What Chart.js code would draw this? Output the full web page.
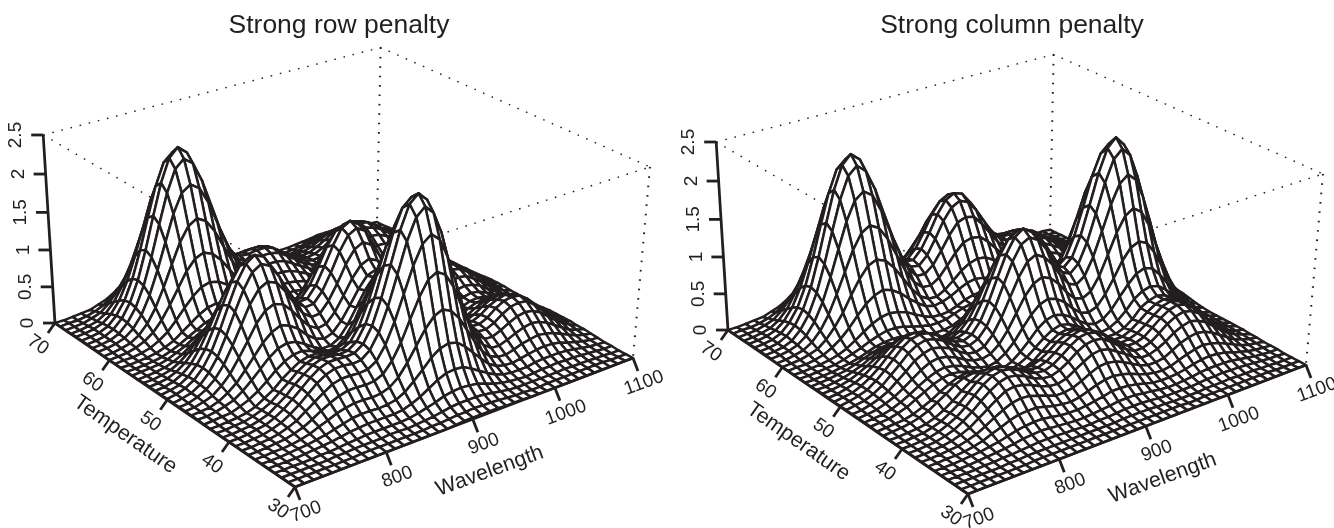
<!DOCTYPE html>
<html>
<head>
<meta charset="utf-8">
<title>Row and column penalty surfaces</title>
<script src="https://cdn.jsdelivr.net/npm/chart.js"></script>
<style>
  html, body { margin: 0; padding: 0; background: #fff; overflow: hidden; }
  #wrap { display: flex; width: 1334px; height: 528px; }
  canvas { display: block; }
</style>
</head>
<body>
<div id="wrap">
  <canvas id="rowChart" width="667" height="528"></canvas>
  <canvas id="columnChart" width="667" height="528"></canvas>
</div>
<script>
const wavelengths = [700,710,720,730,740,750,760,770,780,790, 800,810,820,830,840,850,860,870,880,890, 900,910,920,930,940,950,960,970,980,990, 1000,1010,1020,1030,1040,1050,1060,1070,1080,1090,1100];
const temperatures = [30,31,32,33,34,35,36,37,38,39, 40,41,42,43,44,45,46,47,48,49, 50,51,52,53,54,55,56,57,58,59, 60,61,62,63,64,65,66,67,68,69,70];

const waveTicks = [700,800,900,1000,1100];
const tempTicks = [70,60,50,40,30];
const zTicks = [0,0.5,1,1.5,2,2.5];

// heights, in hundredths. one row per temperature, one column per wavelength
const rowPenaltyZ = [
[0,0,0,0,0,0,0,0,0,0, 0,0,0,0,0,0,0,0,1,2, 2,2,2,2,1,1,1,0,0,0, 0,0,0,0,0,0,0,0,0,0,0],
[0,0,0,0,0,0,0,0,1,1, 1,1,1,1,1,1,2,2,3,4, 4,5,4,4,3,2,1,1,0,0, 1,1,1,1,1,1,1,1,0,0,0],
[0,0,0,0,0,0,1,1,2,2, 2,2,3,3,2,3,4,5,7,9, 10,10,10,9,7,5,3,2,2,2, 2,2,2,3,2,2,2,1,1,0,0],
[0,0,0,0,0,1,1,2,3,4, 5,5,5,5,5,6,8,11,14,18, 20,21,20,18,14,10,7,5,4,3, 4,5,5,6,5,5,4,3,2,1,1],
[0,0,0,0,1,2,3,4,6,8, 9,10,10,10,10,11,15,20,27,34, 39,40,39,33,26,19,13,9,7,7, 7,9,10,10,10,9,7,5,3,2,1],
[0,0,0,1,2,3,5,7,10,13, 16,17,17,16,17,19,25,35,46,58, 66,69,66,57,45,33,22,15,12,11, 13,15,17,18,17,15,11,8,5,3,2],
[0,0,1,1,2,4,7,12,16,21, 24,26,26,25,26,30,39,54,72,90, 103,108,102,89,70,51,34,23,18,17, 20,24,26,28,26,23,18,13,8,5,3],
[0,0,1,2,3,6,10,16,23,29, 34,37,37,36,37,42,55,75,101,126, 145,151,144,125,98,71,48,33,25,24, 28,33,37,39,37,32,25,18,11,7,4],
[0,0,1,2,4,8,13,21,29,37, 44,47,47,46,47,54,71,97,129,161, 185,194,184,159,126,91,62,42,32,31, 36,42,47,49,47,41,32,23,15,9,4],
[0,0,1,2,5,9,16,24,34,44, 51,55,55,53,54,63,82,112,149,187, 214,224,213,185,145,105,71,49,37,36, 41,49,55,57,55,47,37,26,17,10,5],
[0,0,1,3,5,10,17,26,36,46, 54,58,58,57,58,66,86,118,157,197, 226,236,225,194,153,111,75,51,39,38, 43,52,58,60,58,50,39,28,18,10,5],
[0,0,1,2,5,9,17,25,36,45, 53,57,57,55,56,64,83,113,151,189, 217,227,216,187,147,107,72,49,38,37, 42,50,55,58,55,48,37,27,17,10,5],
[0,0,1,2,5,9,15,24,33,43, 50,54,53,52,52,58,74,101,134,167, 192,200,191,165,130,94,64,43,34,33, 37,44,50,52,49,43,33,24,15,9,5],
[0,0,1,2,4,8,15,22,32,40, 47,50,50,48,47,51,63,84,111,138, 158,165,158,136,107,78,53,36,28,27, 31,37,42,44,42,36,28,20,13,8,4],
[0,1,2,3,7,12,19,28,38,46, 51,52,48,44,40,42,51,68,90,112, 129,134,128,111,87,63,43,30,23,23, 26,32,36,37,35,30,24,17,11,6,3],
[1,1,3,6,10,18,28,39,50,58, 61,59,52,44,38,38,44,58,77,96, 110,115,110,95,75,54,37,26,21,21, 24,29,33,34,32,28,22,16,10,6,3],
[1,2,3,7,14,23,36,50,64,74, 79,75,67,55,46,42,46,58,75,93, 107,111,106,92,73,53,36,25,21,21, 25,30,34,36,34,29,23,16,11,6,3],
[1,2,5,9,18,30,47,65,84,97, 102,98,86,71,58,51,53,65,83,102, 116,121,115,100,79,58,40,28,23,24, 29,35,39,41,39,34,26,19,12,7,4],
[1,2,6,12,22,37,58,81,104,120, 126,121,106,87,70,61,62,75,94,116, 132,138,131,114,90,65,45,32,27,28, 33,41,46,48,46,39,31,22,14,8,4],
[1,3,6,13,25,42,66,93,118,137, 144,138,121,99,80,69,70,83,104,128, 146,152,145,125,99,72,50,35,30,31, 37,45,51,54,51,44,35,25,16,9,5],
[1,3,7,14,26,44,69,97,124,143, 151,145,127,104,83,71,72,86,108,132, 151,157,149,129,102,74,51,37,31,32, 39,47,53,56,53,46,36,25,16,10,5],
[1,3,6,13,25,42,66,92,118,136, 143,137,121,99,79,68,68,81,102,125, 142,148,141,122,96,70,49,35,29,31, 37,44,50,53,50,43,34,24,16,9,5],
[1,2,5,11,21,37,57,80,102,118, 124,119,104,85,68,59,59,70,88,108, 123,128,122,105,83,61,42,30,25,26, 32,38,43,45,43,37,29,21,13,8,4],
[1,2,4,9,17,29,45,63,80,93, 97,93,82,67,54,46,46,55,69,84, 96,100,95,82,65,47,33,23,20,21, 25,30,34,36,34,29,23,16,11,6,3],
[1,1,3,6,12,21,32,45,58,67, 71,68,59,48,39,33,33,39,49,60, 69,71,68,59,46,34,23,17,14,15, 18,22,25,26,24,21,17,12,8,4,2],
[0,1,2,4,8,14,22,31,40,46, 49,47,41,33,27,22,22,26,32,39, 45,47,45,38,30,22,15,11,9,10, 12,15,16,17,16,14,11,8,5,3,2],
[0,1,2,3,6,11,16,23,29,34, 36,34,30,24,19,15,15,17,20,25, 28,29,28,24,19,14,10,7,6,7, 8,10,11,12,11,10,8,5,4,2,1],
[0,0,1,2,4,8,13,19,25,31, 34,34,31,26,20,16,13,13,14,17, 19,19,18,16,12,9,6,5,4,5, 7,8,9,10,9,8,6,4,3,2,1],
[0,0,1,2,4,8,13,21,29,37, 43,45,43,38,31,24,18,15,15,15, 16,16,16,13,11,8,6,5,5,6, 7,9,10,11,10,9,7,5,3,2,1],
[0,1,1,3,6,12,20,32,45,57, 66,69,66,58,46,35,26,21,19,19, 20,20,18,16,12,9,7,6,6,8, 10,13,15,16,15,13,10,7,5,3,1],
[0,1,2,5,10,18,31,48,67,86, 99,104,99,87,70,52,38,30,26,26, 27,27,25,22,17,13,10,9,9,12, 16,19,22,23,22,19,15,11,7,4,2],
[0,1,3,6,13,25,43,67,94,120, 138,145,138,121,97,73,54,41,36,36, 37,37,35,30,24,18,14,12,13,16, 22,27,31,32,31,27,21,15,10,6,3],
[1,2,4,8,17,32,55,85,119,153, 177,185,177,155,124,93,68,53,46,46, 47,47,44,37,30,23,17,15,16,21, 27,34,39,41,39,34,27,19,12,7,4],
[1,2,4,9,20,37,63,98,138,176, 204,214,205,179,143,107,79,61,53,53, 54,54,51,43,35,26,20,17,19,24, 32,39,45,48,45,39,31,22,14,8,4],
[1,2,4,10,21,39,66,103,145,185, 214,225,215,188,150,112,83,64,56,55, 57,57,53,45,36,27,21,18,20,25, 33,41,48,50,48,41,32,23,15,9,5],
[1,2,4,9,20,37,63,98,138,176, 204,214,205,179,143,107,79,61,53,53, 54,54,51,43,35,26,20,17,19,24, 32,39,45,48,45,39,31,22,14,8,4],
[1,2,4,8,17,32,55,85,119,153, 177,185,177,155,124,93,68,53,46,46, 47,47,44,37,30,23,17,15,16,21, 27,34,39,41,39,34,27,19,12,7,4],
[0,1,3,6,13,25,43,67,94,120, 138,145,138,121,97,73,54,41,36,36, 37,37,35,30,24,18,14,12,13,16, 22,27,31,32,31,27,21,15,10,6,3],
[0,1,2,5,9,18,31,47,66,85, 98,103,98,86,69,51,37,29,26,25, 26,26,24,21,17,13,9,8,9,12, 15,19,22,23,22,19,15,10,7,4,2],
[0,1,1,3,6,11,19,30,43,55, 63,66,63,55,44,33,25,20,18,18, 19,19,17,15,12,9,7,5,6,7, 10,12,14,15,14,12,10,7,4,3,1],
[0,0,1,2,3,7,11,18,25,32, 37,39,37,32,25,19,15,12,12,12, 13,13,13,11,9,7,5,4,4,5, 6,7,9,9,9,7,6,4,3,2,1]
];

const columnPenaltyZ = [
[0,0,0,0,0,0,0,0,0,0, 0,0,0,0,0,0,0,0,0,0, 0,0,0,0,0,0,0,0,0,0, 0,0,0,0,0,0,0,0,0,0,0],
[0,0,0,0,0,0,0,0,1,1, 1,1,1,1,1,1,1,1,1,1, 1,1,1,1,1,1,0,0,1,1, 1,1,1,1,1,1,1,0,0,0,0],
[0,0,0,0,0,0,1,1,2,2, 2,2,2,2,2,2,2,2,2,3, 3,3,3,2,2,1,1,1,1,2, 2,2,3,2,2,2,1,1,0,0,0],
[0,0,0,0,1,1,2,2,3,4, 5,5,5,4,4,3,3,4,4,5, 6,6,6,5,4,3,3,3,3,4, 5,5,6,5,5,4,3,2,1,1,0],
[0,0,0,0,1,2,3,4,6,8, 9,10,9,8,7,6,6,7,8,9, 11,11,11,9,8,6,5,5,6,7, 9,10,10,10,9,7,5,3,2,1,1],
[0,0,0,1,2,3,5,7,10,13, 15,16,16,14,12,11,11,12,14,16, 19,19,18,16,13,10,9,9,10,12, 15,17,18,17,15,11,8,5,3,2,1],
[0,0,1,1,2,4,7,12,16,21, 24,25,25,22,19,17,16,18,22,26, 29,30,28,25,20,16,14,13,15,19, 23,26,28,26,23,18,13,8,5,3,1],
[0,0,1,2,3,6,10,16,23,29, 34,36,35,31,27,23,23,25,30,36, 41,42,40,35,29,23,19,19,21,27, 33,37,39,37,32,25,18,11,7,4,2],
[0,0,1,2,4,8,13,21,29,37, 44,46,44,40,34,30,29,32,39,46, 52,54,51,44,37,29,24,24,28,34, 42,47,50,47,41,32,23,15,9,5,2],
[0,0,1,2,5,9,16,24,34,43, 50,53,51,46,39,35,34,38,45,54, 60,62,60,52,43,34,28,28,32,40, 49,55,58,55,48,37,27,17,10,5,3],
[0,0,1,2,5,10,16,25,36,46, 53,56,54,49,42,37,36,40,48,57, 64,66,63,56,45,36,30,30,34,43, 52,59,62,59,51,40,28,18,11,6,3],
[0,0,1,2,5,9,16,24,34,44, 51,54,52,47,40,36,35,39,47,56, 62,65,62,55,44,35,29,30,34,42, 51,59,62,59,51,40,28,18,11,6,3],
[0,0,1,2,4,8,14,22,31,39, 46,48,47,42,36,32,32,36,43,52, 58,60,57,51,41,33,28,28,33,41, 50,57,60,57,49,39,27,18,10,6,3],
[0,1,2,4,7,12,19,26,34,39, 41,39,35,29,24,22,24,29,38,47, 54,56,53,47,39,31,27,27,31,39, 51,57,60,57,50,39,28,18,10,6,3],
[0,1,2,3,6,11,16,23,29,34, 36,34,30,25,21,20,23,29,38,47, 54,57,54,48,39,32,28,30,36,46, 58,65,68,65,56,44,31,20,12,6,3],
[1,2,3,6,10,16,22,28,32,34, 32,28,23,18,16,17,22,31,42,54, 62,65,62,55,46,38,34,37,46,60, 73,84,88,84,72,57,40,26,15,8,4],
[1,2,3,6,11,17,24,30,35,37, 35,31,25,21,18,21,28,39,54,68, 78,82,78,70,58,48,45,49,62,80, 100,114,119,114,98,77,55,35,21,11,5],
[1,2,4,8,13,20,28,36,42,44, 42,37,30,25,23,26,35,50,69,88, 101,106,101,90,75,63,59,65,82,107, 133,152,159,151,131,102,73,47,27,15,7],
[1,2,5,9,15,24,33,43,49,52, 49,44,36,29,27,31,43,62,85,108, 125,131,124,111,93,78,73,81,103,134, 166,190,199,189,163,128,91,59,34,18,9],
[1,3,5,10,17,27,37,48,55,58, 55,49,40,33,31,36,49,71,98,124, 143,149,142,127,106,89,83,93,118,153, 190,218,228,217,187,147,104,67,39,21,10],
[1,3,6,10,18,28,39,50,58,60, 58,51,42,35,32,37,51,74,102,129, 148,156,148,133,111,93,87,97,123,160, 199,228,239,227,196,154,109,70,41,22,10],
[1,3,5,10,17,26,37,47,55,57, 55,48,40,33,31,35,49,70,96,123, 141,148,141,126,105,88,83,92,117,152, 190,217,227,216,187,146,104,67,39,21,10],
[1,2,5,9,15,23,32,41,47,50, 47,42,34,28,26,31,42,60,83,106, 122,128,122,109,91,76,71,80,101,132, 164,187,196,187,161,126,90,58,34,18,9],
[1,2,4,7,12,18,25,32,37,39, 37,33,27,22,21,24,33,48,66,84, 96,100,95,85,71,60,56,63,79,103, 128,146,154,146,126,99,70,45,26,14,7],
[1,1,3,5,9,13,19,24,28,29, 28,25,20,17,15,17,24,34,47,60, 69,72,69,61,51,43,40,45,57,74, 91,104,109,104,90,71,50,32,19,10,5],
[0,1,2,4,6,10,14,18,21,22, 21,18,15,11,9,8,10,15,22,31, 40,46,48,47,43,38,34,35,41,50, 61,69,71,68,59,46,33,21,12,7,3],
[0,0,1,2,4,6,9,13,17,19, 20,19,17,14,11,9,9,11,16,21, 27,31,33,32,29,25,22,22,25,31, 37,42,43,41,36,28,20,13,7,4,2],
[0,0,1,2,3,6,10,14,19,23, 26,26,24,20,17,14,14,15,19,23, 25,25,26,25,23,19,17,16,17,19, 23,25,26,25,22,17,12,8,4,2,1],
[0,0,1,2,4,7,12,19,27,34, 39,41,39,35,28,22,17,16,17,21, 26,29,30,29,25,21,17,15,14,15, 17,19,19,18,16,12,9,6,3,2,1],
[0,1,1,3,6,12,20,31,44,56, 64,68,64,56,45,35,27,24,26,30, 36,41,43,41,36,29,23,18,16,16, 18,19,19,18,16,12,9,6,3,2,1],
[0,1,2,5,9,18,31,47,67,85, 99,104,99,86,68,50,36,29,28,34, 43,53,60,63,61,54,45,36,30,27, 26,26,26,24,20,16,11,7,4,2,1],
[0,1,3,6,13,25,43,67,93,119, 138,145,138,120,95,70,51,40,39,46, 59,73,84,87,85,75,62,50,41,36, 35,35,35,32,27,21,15,10,6,3,1],
[1,2,4,8,17,32,55,85,119,152, 176,185,177,153,121,90,65,51,50,59, 75,93,107,111,108,95,79,63,52,46, 44,44,44,40,34,27,19,12,7,4,2],
[1,2,4,9,20,37,63,98,138,176, 204,214,204,177,140,104,75,59,57,68, 87,108,123,129,124,110,91,73,60,53, 51,51,50,46,39,31,22,14,8,4,2],
[1,2,4,10,21,39,66,103,145,185, 214,225,215,186,148,109,79,62,60,72, 91,113,129,135,131,116,96,77,63,55, 54,53,53,49,41,32,23,15,9,5,2],
[1,2,4,9,20,37,63,98,138,176, 204,214,204,177,140,104,75,59,57,68, 87,108,123,129,124,110,91,73,60,53, 51,51,50,46,39,31,22,14,8,4,2],
[1,2,4,8,17,32,55,85,119,152, 176,185,177,153,121,90,65,51,50,59, 75,93,107,111,108,95,79,63,52,46, 44,44,44,40,34,27,19,12,7,4,2],
[0,1,3,6,13,25,43,67,93,119, 138,145,138,120,95,70,51,40,39,46, 59,73,84,87,85,75,62,50,41,36, 35,35,35,32,27,21,15,10,6,3,1],
[0,1,2,5,9,18,31,47,67,85, 99,104,99,86,68,50,36,29,28,34, 43,53,60,63,61,54,45,36,30,27, 26,26,26,24,20,16,11,7,4,2,1],
[0,1,1,3,6,11,20,30,43,55, 63,66,63,55,43,32,23,18,18,21, 26,32,38,40,38,33,27,22,18,16, 16,16,16,14,12,9,7,4,3,1,0],
[0,0,1,2,3,7,11,18,25,32, 37,39,37,32,25,18,13,11,11,12, 15,19,22,23,22,19,16,13,10,9, 9,9,9,8,7,5,4,3,1,1,0]
];

const INK = '#231f20';
const FONT = '"Liberation Sans", Arial, sans-serif';
const TITLE_HEIGHT = 41.8;

// perspective view of the box, fitted to the corners of the left panel
function project(wave, temp, z) {
  const u = (wave - 700) / 400, v = (temp - 30) / 40, n = z / 2.5;
  const w = 1 + 0.11 * u + 0.137 * v - 0.0532 * n;
  return {
    x: (295 + 407.6 * u - 232.5 * v - 15.7 * n) / w,
    y: (487 - 89.6 * u - 119.7 * v - 221 * n) / w,
  };
}

function lineSet(points, width, dash) {
  return {
    data: points, borderColor: INK, borderWidth: width, borderJoinStyle: 'round',
    borderDash: dash || [], pointRadius: 0, fill: false, clip: false, tension: 0,
  };
}

function buildPanel(canvasId, title, heights, dx, dy, padLeft) {
  const at = (wave, temp, z) => {
    const p = project(wave, temp, z);
    return { x: p.x + dx, y: p.y + dy };
  };
  const from = (p, ox, oy) => ({ x: p.x + ox, y: p.y + oy });
  const datasets = [];

  // axes and ticks sit on top, so they come first
  datasets.push(lineSet([at(700, 70, 0), at(700, 70, 2.5)], 2.8));
  datasets.push(lineSet([at(700, 70, 0), at(700, 30, 0), at(1100, 30, 0)], 2.8));
  zTicks.forEach((t) => {
    const p = at(700, 70, t);
    datasets.push(lineSet([p, from(p, -12, 0)], 2.8));
  });
  tempTicks.forEach((t) => {
    const p = at(700, t, 0);
    datasets.push(lineSet([p, from(p, -7, 10)], 2.8));
  });
  waveTicks.forEach((t) => {
    const p = at(t, 30, 0);
    datasets.push(lineSet([p, from(p, 5, 13)], 2.8));
  });

  // chart.js paints the first dataset last, so the nearest cell goes first.
  // the tiny tension keeps it off the fast line path, which merges points sharing a pixel column
  for (let j = 0; j < temperatures.length - 1; j++) {
    for (let i = 0; i < wavelengths.length - 1; i++) {
      const corner = (a, b) => at(wavelengths[a], temperatures[b], heights[b][a] / 100);
      const p = corner(i, j);
      datasets.push({
        data: [p, corner(i + 1, j), corner(i + 1, j + 1), corner(i, j + 1), p],
        borderColor: INK, borderWidth: 2.5, borderJoinStyle: 'round', backgroundColor: '#fff',
        fill: 'shape', pointRadius: 0, clip: false, tension: 0.001,
      });
    }
  }

  // dotted box, behind everything
  const dots = [1.6, 7.8];
  const topBack = at(1100, 70, 2.5);
  datasets.push(lineSet([at(700, 70, 2.5), topBack, at(1100, 30, 2.5)], 1.4, dots));
  datasets.push(lineSet([at(700, 70, 2.5), at(700, 30, 2.5), at(1100, 30, 2.5)], 1.4, dots));
  datasets.push(lineSet([topBack, at(1100, 70, 0)], 2, dots));
  datasets.push(lineSet([at(1100, 30, 2.5), at(1100, 30, 0)], 2, dots));

  const labels = {
    id: 'boxLabels',
    afterDraw(chart) {
      const { ctx, scales } = chart;
      const put = (text, p, ox, oy, angle, size) => {
        ctx.save();
        ctx.translate(scales.x.getPixelForValue(p.x + ox), scales.y.getPixelForValue(p.y + oy));
        ctx.rotate(angle * Math.PI / 180);
        ctx.font = size + 'px ' + FONT;
        ctx.fillStyle = INK;
        ctx.textAlign = 'center';
        ctx.textBaseline = 'middle';
        ctx.fillText(text, 0, 0);
        ctx.restore();
      };
      zTicks.forEach((t) => put(String(t), at(700, 70, t), -27, 0, -90, 19));
      tempTicks.forEach((t) => put(String(t), at(700, t, 0), -17, 22, 35, 19));
      waveTicks.forEach((t) => put(String(t), at(t, 30, 0), 11, 25, -20, 19));
      put('Temperature', at(700, 50, 0), -42, 35, 35, 21.5);
      put('Wavelength', at(900, 30, 0), 17, 52, -20, 21.5);
    },
  };

  new Chart(document.getElementById(canvasId), {
    type: 'line',
    data: { datasets },
    plugins: [labels],
    options: {
      responsive: false,
      animation: false,
      events: [],
      layout: { padding: { left: padLeft } },
      scales: {
        x: { type: 'linear', display: false, min: padLeft, max: 667 },
        y: { type: 'linear', display: false, reverse: true, min: TITLE_HEIGHT, max: 528 },
      },
      plugins: {
        legend: { display: false },
        tooltip: { enabled: false },
        filler: { drawTime: 'beforeDatasetDraw' },
        title: {
          display: true,
          text: title,
          color: INK,
          font: { family: FONT, size: 26.5, weight: 'normal' },
          padding: { top: 10, bottom: 0 },
        },
      },
    },
  });
}

buildPanel('rowChart', 'Strong row penalty', rowPenaltyZ, 0, 0, 11);
buildPanel('columnChart', 'Strong column penalty', columnPenaltyZ, 6, 7, 23);
</script>
</body>
</html>
